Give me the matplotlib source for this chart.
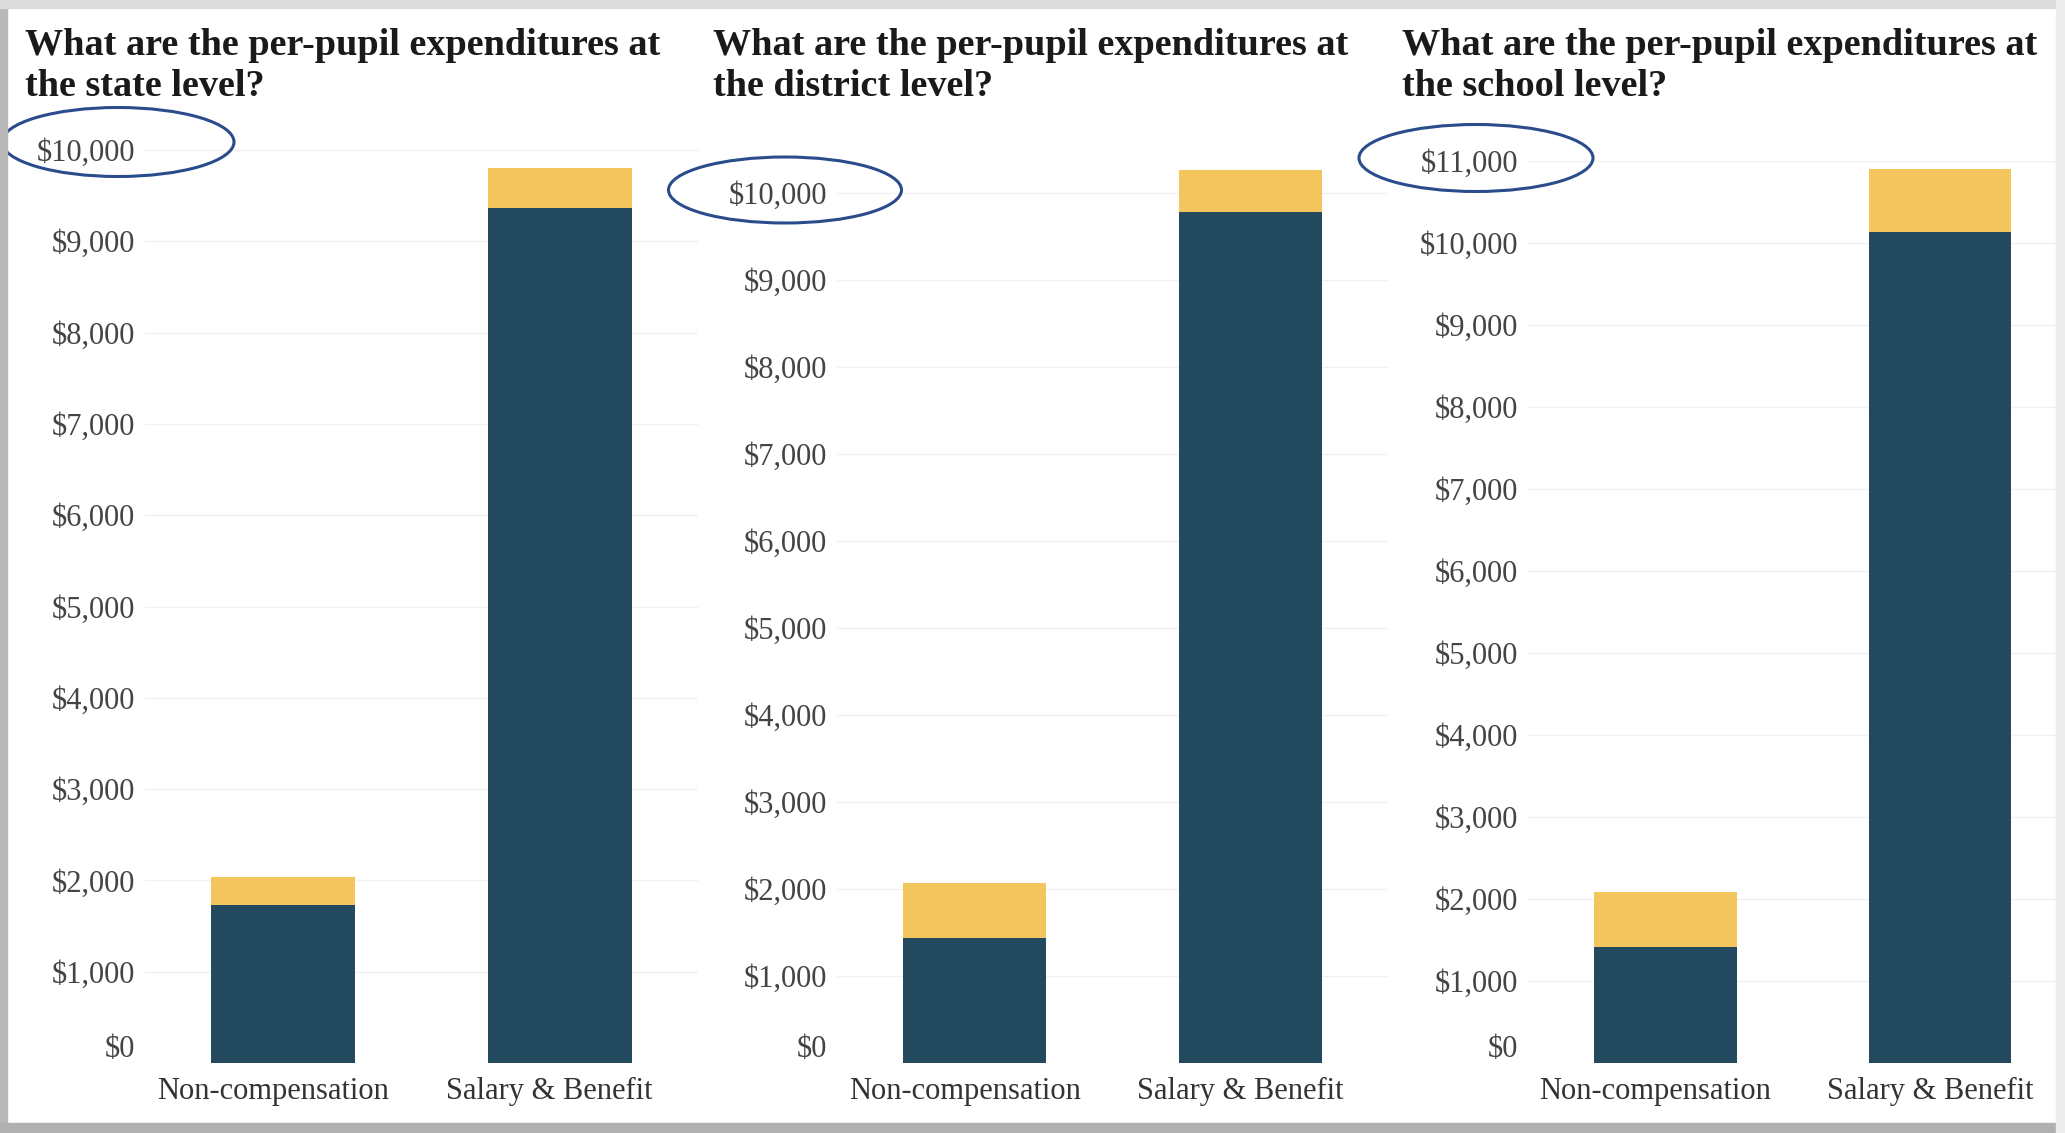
import matplotlib
matplotlib.use("Agg")
import matplotlib.pyplot as plt
from matplotlib.patches import Ellipse, Rectangle
from matplotlib.ticker import FuncFormatter, MultipleLocator
from matplotlib.transforms import ScaledTranslation

plt.rcParams['font.family'] = ['Liberation Serif', 'DejaVu Serif']

# data (dollars per pupil)
categories = ["Non-compensation", "Salary & Benefit"]
titles = [
    "What are the per-pupil expenditures at\nthe state level?",
    "What are the per-pupil expenditures at\nthe district level?",
    "What are the per-pupil expenditures at\nthe school level?",
]
navy_state = [1730, 9360]
gold_state = [310, 440]
navy_district = [1440, 9780]
gold_district = [630, 480]
navy_school = [1410, 10130]
gold_school = [675, 770]
y_tops = [10000, 10400, 11000]

NAVY = "#23495f"
GOLD = "#f2c65c"
W, H = 2065, 1133

fig = plt.figure(figsize=(W / 100, H / 100), dpi=100)
fig.patch.set_facecolor("white")

# (left px, right px, top px, xmax) for each panel, zero line at y=1063
panels = [
    (145, 698, 150, 1.5, navy_state, gold_state),
    (837, 1388, 158, 1.5, navy_district, gold_district),
    (1528, 2058, 161, 1.43, navy_school, gold_school),
]
zero_y = 1063

# $0 is drawn separately, a little above the baseline like the original
money = FuncFormatter(lambda v, p: "" if v == 0 else "${:,.0f}".format(v))
shift_left = ScaledTranslation(-10 / 100, 0, fig.dpi_scale_trans)

for i, (lx, rx, ty, xmax, navy, gold) in enumerate(panels):
    ax = fig.add_axes([lx / W, (H - zero_y) / H, (rx - lx) / W, (zero_y - ty) / H])
    x = range(len(categories))
    ax.bar(x, navy, width=0.52, color=NAVY, zorder=3)
    ax.bar(x, gold, width=0.52, bottom=navy, color=GOLD, zorder=3)
    ax.set_xlim(-0.5, xmax)
    ax.set_ylim(0, y_tops[i])
    ax.yaxis.set_major_locator(MultipleLocator(1000))
    ax.yaxis.set_major_formatter(money)
    ax.set_xticks(list(x))
    ax.set_xticklabels(categories)
    ax.grid(axis="y", color="#f0f0f0", linewidth=1.0, zorder=0)
    for s in ax.spines.values():
        s.set_visible(False)
    ax.tick_params(axis="both", length=0, colors="#444444")
    ax.tick_params(axis="y", pad=7, labelsize=22)
    ax.tick_params(axis="x", pad=10, labelsize=22, labelcolor="#333333")
    for lab in ax.get_xticklabels():
        lab.set_transform(lab.get_transform() + shift_left)
    ax.annotate("$0", xy=(0, 0), xycoords=ax.get_yaxis_transform(),
                xytext=(-7, 9.4), textcoords="offset points",
                ha="right", va="center", fontsize=22, color="#444444")
    ax.set_facecolor("none")

# titles
title_x = [25, 713, 1402]
for tx, t in zip(title_x, titles):
    fig.text(tx / W, 1 - 66 / H, t, fontsize=27.5, fontweight="bold",
             color="#1a1a1a", va="center", ha="left", linespacing=1.2)

# hand-drawn ellipses around the top tick labels
rings = [(118, 142, 232, 69), (785, 190, 233, 66), (1476, 158, 234, 67)]
for cx, cy, ew, eh in rings:
    fig.patches.append(Ellipse((cx / W, 1 - cy / H), ew / W, eh / H,
                               transform=fig.transFigure, fill=False,
                               edgecolor="#2b4c8c", linewidth=2.2, zorder=10))

# screenshot frame
frame = [
    (0, 0, 7, H, "#b8b8b8"),
    (0, 0, W, 8, "#dcdcdc"),
    (0, 1123, W, 10, "#b0b0b0"),
    (2056, 0, 9, H, "#ececec"),
]
for fx, fy, fw, fh, c in frame:
    fig.patches.append(Rectangle((fx / W, 1 - (fy + fh) / H), fw / W, fh / H,
                                 transform=fig.transFigure, color=c, zorder=20))

fig.savefig("out.png", dpi=100)
